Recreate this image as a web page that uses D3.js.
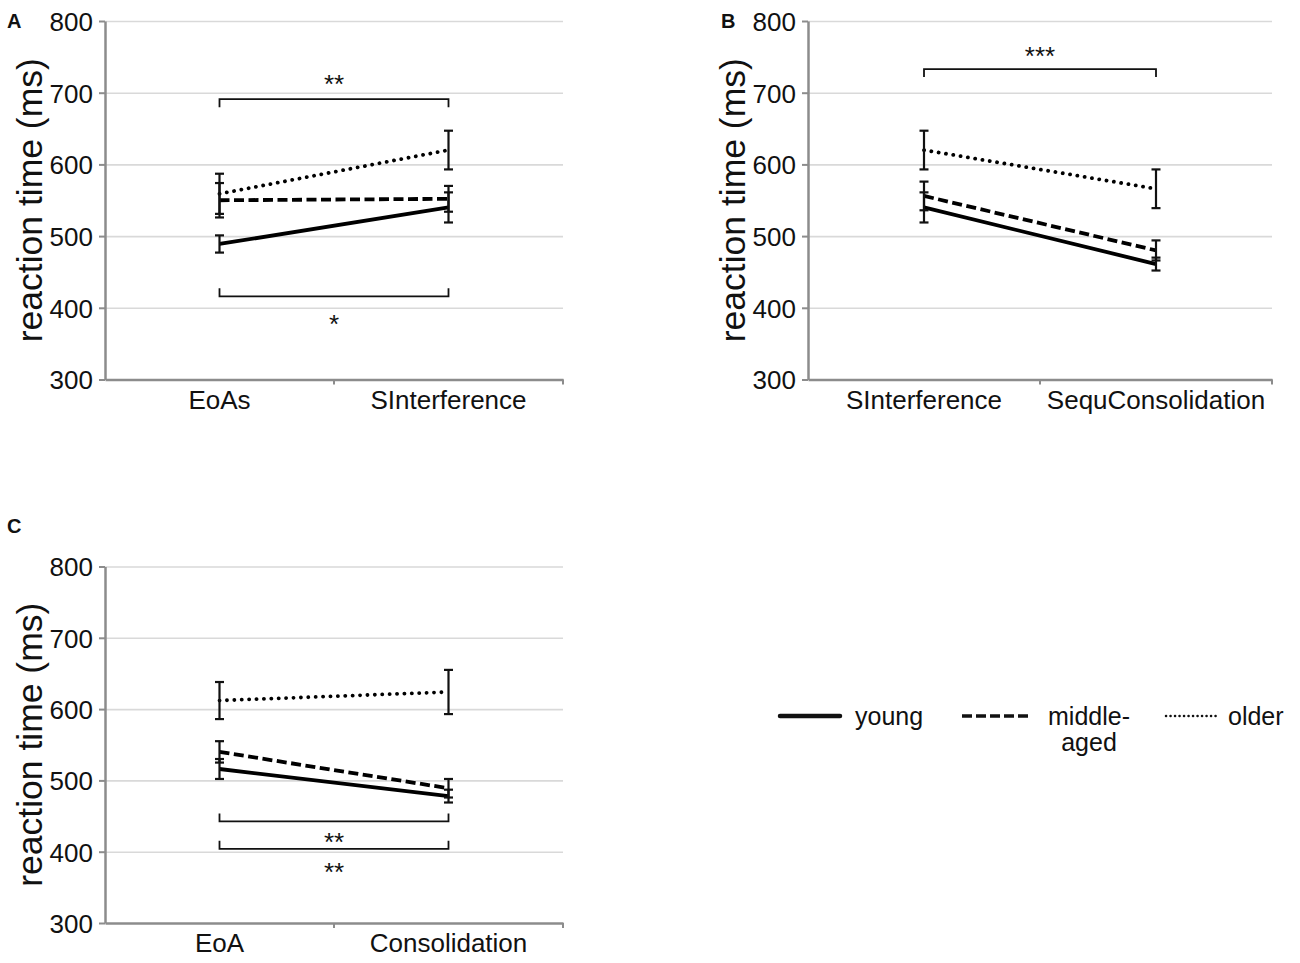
<!DOCTYPE html>
<html>
<head>
<meta charset="utf-8">
<script src="https://cdn.jsdelivr.net/npm/d3@7/dist/d3.min.js"></script>
<style>
  html, body { margin: 0; padding: 0; background: #fff; }
  svg { display: block; font-family: "Liberation Sans", Arial, sans-serif; }
</style>
</head>
<body>
<svg id="chart" width="1300" height="963"></svg>
<script>
// ---------- data ----------
const groups = ["young", "middle-aged", "older"];
const yTicks = [300, 400, 500, 600, 700, 800];

// Panel A
const catsA = ["EoAs", "SInterference"];
const youngA = [489, 540];   const youngAErr = [12, 21];
const middleA = [550, 552];  const middleAErr = [24, 18];
const olderA = [559, 620];   const olderAErr = [28, 27];
const bracketsA = [
  { value: 691, dir: "down", stars: "**", starValue: 720 },
  { value: 416, dir: "up", stars: "*", starValue: 386 }
];

// Panel B
const catsB = ["SInterference", "SequConsolidation"];
const youngB = [540, 461];   const youngBErr = [21, 9];
const middleB = [556, 480];  const middleBErr = [20, 14];
const olderB = [620, 566];   const olderBErr = [27, 27];
const bracketsB = [
  { value: 733, dir: "down", stars: "***", starValue: 759 }
];

// Panel C
const catsC = ["EoA", "Consolidation"];
const youngC = [516, 478];   const youngCErr = [14, 9];
const middleC = [540, 489];  const middleCErr = [15, 13];
const olderC = [612, 624];   const olderCErr = [26, 31];
const bracketsC = [
  { value: 442.5, dir: "up", stars: "**", starValue: 421.5 },
  { value: 404, dir: "up", stars: "**", starValue: 380 }
];

// ---------- styles ----------
const lineStyles = {
  "young":       { width: 3.8, dash: null, cap: "butt" },
  "middle-aged": { width: 3.8, dash: "10,4.5", cap: "butt" },
  "older":       { width: 3.8, dash: "0.1,7.3", cap: "round" }
};

const svg = d3.select("#chart");
const FONT = 26;

function panel(opts) {
  const { letter, letterX, letterY, left, right, top, bottom, cats, series, brackets } = opts;
  const g = svg.append("g");

  const x = d3.scaleBand().domain(cats).range([left, right]);
  const y = d3.scaleLinear().domain([300, 800]).range([bottom, top]);
  const cx = c => x(c) + x.bandwidth() / 2;

  // gridlines
  g.append("g")
    .attr("transform", `translate(${left},0)`)
    .call(d3.axisLeft(y).tickValues(yTicks.filter(t => t > 300)).tickSize(-(right - left)).tickFormat(""))
    .call(s => s.select(".domain").remove())
    .call(s => s.selectAll("line").attr("stroke", "#d9d9d9").attr("stroke-width", 1.6));

  // y axis
  g.append("g")
    .attr("transform", `translate(${left},0)`)
    .call(d3.axisLeft(y).tickValues(yTicks).tickSize(6).tickPadding(6).tickSizeOuter(0))
    .call(s => s.select(".domain").attr("stroke", "#8c8c8c").attr("stroke-width", 2.5))
    .call(s => s.selectAll(".tick line").attr("stroke", "#8c8c8c").attr("stroke-width", 2))
    .call(s => s.selectAll("text")
      .attr("font-size", FONT).attr("fill", "#111")
      .attr("font-family", "Liberation Sans, Arial, sans-serif")
      .attr("dy", "0.36em"));

  // x axis
  g.append("g")
    .attr("transform", `translate(0,${bottom})`)
    .call(d3.axisBottom(x).tickSize(0).tickPadding(29).tickSizeOuter(0))
    .call(s => s.select(".domain").attr("stroke", "#8c8c8c").attr("stroke-width", 2.5))
    .call(s => s.selectAll("text")
      .attr("font-size", FONT).attr("fill", "#111")
      .attr("font-family", "Liberation Sans, Arial, sans-serif")
      .attr("dy", "0"));
  // boundary ticks on x axis
  const bounds = cats.map(c => x(c)).slice(1).concat([x.range()[1]]);
  g.append("g").selectAll("line").data(bounds).join("line")
    .attr("x1", d => d).attr("x2", d => d)
    .attr("y1", bottom).attr("y2", bottom + 5)
    .attr("stroke", "#8c8c8c").attr("stroke-width", 2);

  // y-axis title
  g.append("text")
    .attr("transform", `translate(${left - 63},${(top + bottom) / 2}) rotate(-90)`)
    .attr("text-anchor", "middle")
    .attr("font-size", 35.5)
    .attr("fill", "#111")
    .text("reaction time (ms)");

  // panel letter
  g.append("text")
    .attr("x", letterX).attr("y", letterY)
    .attr("font-size", 20).attr("font-weight", "bold").attr("fill", "#111")
    .text(letter);

  // brackets
  const c0 = cx(cats[0]), c1 = cx(cats[1]);
  brackets.forEach(b => {
    const yy = y(b.value);
    const end = b.dir === "down" ? 8 : -8;
    g.append("path")
      .attr("d", d3.line()([[c0, yy + end], [c0, yy], [c1, yy], [c1, yy + end]]))
      .attr("fill", "none").attr("stroke", "#111").attr("stroke-width", 1.8);
    g.append("text")
      .attr("x", (c0 + c1) / 2).attr("y", y(b.starValue))
      .attr("dy", "0.58em")
      .attr("text-anchor", "middle")
      .attr("font-size", FONT).attr("fill", "#111")
      .text(b.stars);
  });

  // series lines
  series.forEach(s => {
    const st = lineStyles[s.name];
    const pts = cats.map((c, i) => [cx(c), y(s.values[i])]);
    g.append("path")
      .attr("d", d3.line()(pts))
      .attr("fill", "none")
      .attr("stroke", "#000")
      .attr("stroke-width", st.width)
      .attr("stroke-dasharray", st.dash)
      .attr("stroke-linecap", st.cap);
  });

  // error bars
  series.forEach(s => {
    cats.forEach((c, i) => {
      const xx = cx(c);
      const hi = y(s.values[i] + s.errs[i]);
      const lo = y(s.values[i] - s.errs[i]);
      const eg = g.append("g").attr("stroke", "#111").attr("stroke-width", 2.2);
      eg.append("line").attr("x1", xx).attr("x2", xx).attr("y1", hi).attr("y2", lo);
      eg.append("line").attr("x1", xx - 4.5).attr("x2", xx + 4.5).attr("y1", hi).attr("y2", hi);
      eg.append("line").attr("x1", xx - 4.5).attr("x2", xx + 4.5).attr("y1", lo).attr("y2", lo);
    });
  });
}

panel({
  letter: "A", letterX: 7, letterY: 28,
  left: 105, right: 563, top: 21, bottom: 379.5,
  cats: catsA,
  series: [
    { name: "young", values: youngA, errs: youngAErr },
    { name: "middle-aged", values: middleA, errs: middleAErr },
    { name: "older", values: olderA, errs: olderAErr }
  ],
  brackets: bracketsA
});

panel({
  letter: "B", letterX: 721, letterY: 28,
  left: 808, right: 1272, top: 21, bottom: 379.5,
  cats: catsB,
  series: [
    { name: "young", values: youngB, errs: youngBErr },
    { name: "middle-aged", values: middleB, errs: middleBErr },
    { name: "older", values: olderB, errs: olderBErr }
  ],
  brackets: bracketsB
});

panel({
  letter: "C", letterX: 7, letterY: 533,
  left: 105, right: 563, top: 566.5, bottom: 923,
  cats: catsC,
  series: [
    { name: "young", values: youngC, errs: youngCErr },
    { name: "middle-aged", values: middleC, errs: middleCErr },
    { name: "older", values: olderC, errs: olderCErr }
  ],
  brackets: bracketsC
});

// ---------- legend ----------
const legendItems = [
  { name: "young", lines: ["young"], x1: 780, x2: 840, tx: 855, anchor: "start", w: 4.5, dash: null, cap: "round" },
  { name: "middle-aged", lines: ["middle-", "aged"], x1: 962, x2: 1030, tx: 1089, anchor: "middle", w: 3.5, dash: "10,4", cap: "butt" },
  { name: "older", lines: ["older"], x1: 1166, x2: 1218, tx: 1228, anchor: "start", w: 2.5, dash: "0.1,4.4", cap: "round" }
];
const lg = svg.append("g");
legendItems.forEach(it => {
  lg.append("line")
    .attr("x1", it.x1).attr("x2", it.x2).attr("y1", 716).attr("y2", 716)
    .attr("stroke", "#111").attr("stroke-width", it.w)
    .attr("stroke-dasharray", it.dash).attr("stroke-linecap", it.cap);
  const t = lg.append("text")
    .attr("x", it.tx).attr("y", 725)
    .attr("text-anchor", it.anchor)
    .attr("font-size", 25).attr("fill", "#111");
  it.lines.forEach((l, i) => {
    t.append("tspan").attr("x", it.tx).attr("dy", i === 0 ? 0 : 26).text(l);
  });
});
</script>
</body>
</html>
